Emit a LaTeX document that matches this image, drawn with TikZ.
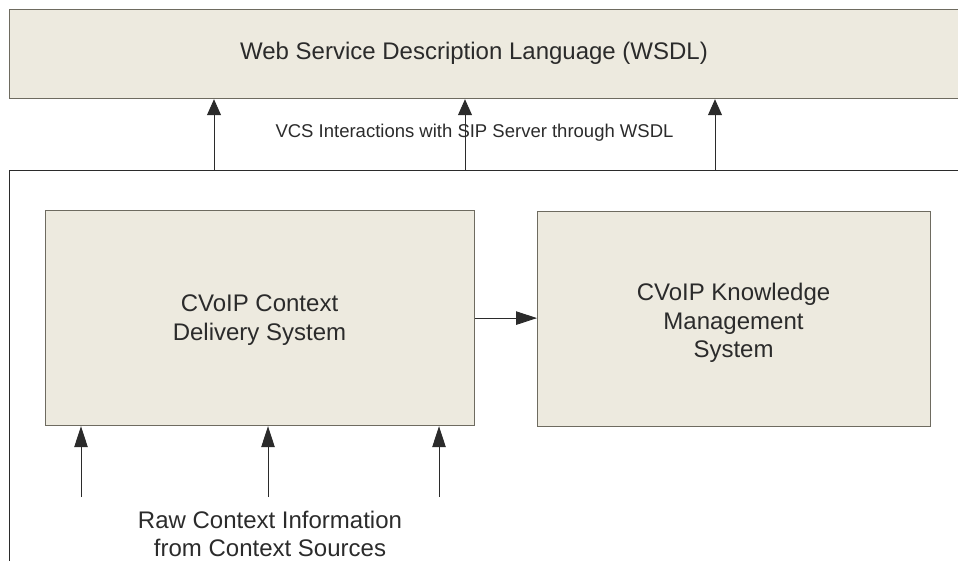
\documentclass[tikz,border=0pt]{standalone}
\usepackage{fontspec}
\setmainfont{Liberation Sans}
\usetikzlibrary{arrows.meta}
\definecolor{boxfill}{HTML}{EDEADF}
\definecolor{boxline}{HTML}{6E6B60}
\definecolor{ink}{HTML}{2B2B2B}
\tikzset{
  beigebox/.style={draw=boxline, line width=1.2pt, fill=boxfill, inner sep=0pt, anchor=north west},
  framebox/.style={draw=ink, line width=1pt, inner sep=0pt, anchor=north west},
  boxtext/.style={text=ink, font=\fontsize{24}{28.5}\selectfont, align=center, inner sep=0pt},
  smalltext/.style={text=ink, font=\fontsize{18.5}{22}\selectfont, inner sep=0pt},
  uparr/.style={draw=ink, line width=0.9pt, -{Triangle[length=16pt,width=14pt]}},
  longarr/.style={draw=ink, line width=0.9pt, -{Triangle[length=21pt,width=13.5pt]}},
}
\begin{document}
\begin{tikzpicture}[x=1pt, y=-1pt]
\useasboundingbox (0,0) rectangle (958,560);
\clip (0,0) rectangle (958,560);
% top WSDL box (runs past the right edge)
\node[beigebox, minimum width=1000pt, minimum height=89pt] (wsdl) at (9,9) {};
\node[boxtext] (wsdltext) at (474,53.5) {Web Service Description Language (WSDL)};
% outer frame (runs past right and bottom edges)
\node[framebox, minimum width=1000pt, minimum height=450pt] (vcs) at (9,170) {};
% inner boxes
\node[beigebox, minimum width=429pt, minimum height=215pt] (cd) at (45,210) {};
\node[boxtext] (cdtext) at (259.5,320) {CVoIP Context\\Delivery System};
\node[beigebox, minimum width=393pt, minimum height=215pt] (km) at (537,211) {};
\node[boxtext] (kmtext) at (733.5,323) {CVoIP Knowledge\\Management\\System};
% label between boxes
\node[smalltext] (vcslabel) at (474.5,133) {VCS Interactions with SIP Server through WSDL};
% up arrows to WSDL
\coordinate (a1) at (214,0);
\coordinate (a2) at (465,0);
\coordinate (a3) at (715,0);
\draw[uparr] (vcs.north -| a1) -- (wsdl.south -| a1);
\draw[uparr] (vcs.north -| a2) -- (wsdl.south -| a2);
\draw[uparr] (vcs.north -| a3) -- (wsdl.south -| a3);
% horizontal arrow
\draw[longarr] (cd.east) -- (km.west |- cd.east);
% bottom arrows
\coordinate (s1) at (81,497);
\coordinate (s2) at (268,497);
\coordinate (s3) at (439,497);
\draw[longarr] (s1) -- (cd.south -| s1);
\draw[longarr] (s2) -- (cd.south -| s2);
\draw[longarr] (s3) -- (cd.south -| s3);
\node[boxtext, font=\fontsize{24}{27.5}\selectfont] (raw) at (270,534) {Raw Context Information\\from Context Sources};
\end{tikzpicture}
\end{document}
